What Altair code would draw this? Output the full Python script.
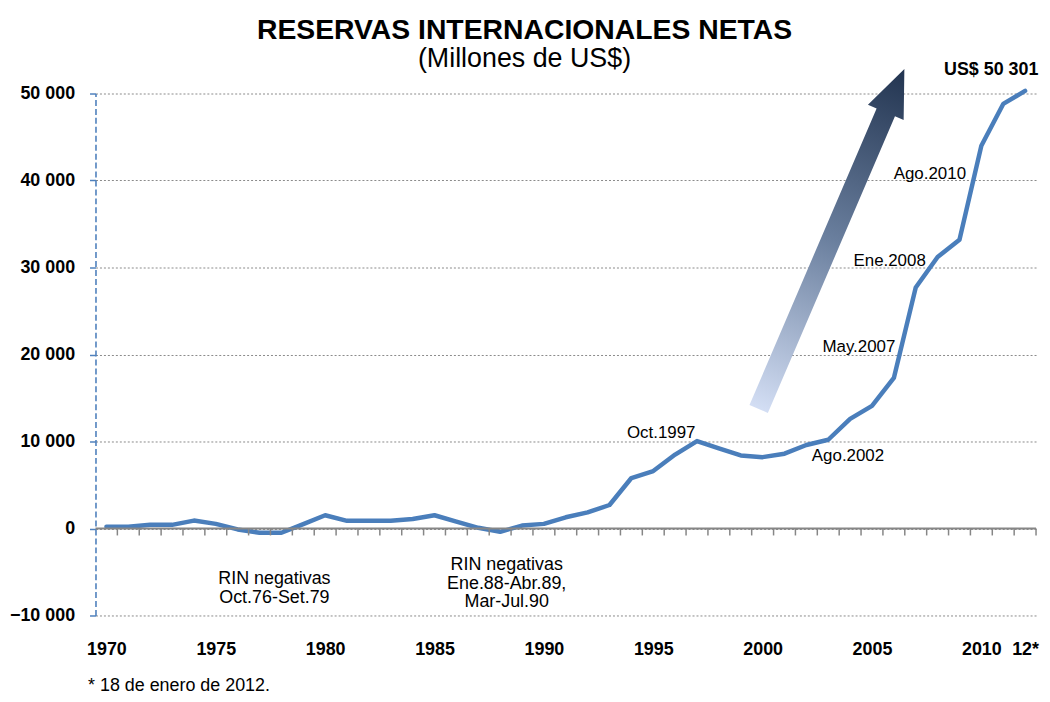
import altair as alt
import pandas as pd

F = "Liberation Sans, Arial, Helvetica, sans-serif"

# ---- data ----
years = list(range(1970, 2013))
rin = [190, 190, 420, 420, 910, 530, -110, -490, -490, 500,
       1520, 880, 880, 880, 1100, 1520, 800, 80, -380, 340,
       530, 1290, 1860, 2700, 5800, 6600, 8500, 10050, 9200, 8400,
       8200, 8600, 9600, 10200, 12600, 14100, 17300, 27700, 31200, 33200,
       44000, 48800, 50301]

x_label_years = [1970, 1975, 1980, 1985, 1990, 1995, 2000, 2005, 2010, 2012]
y_tick_values = [-10000, 0, 10000, 20000, 30000, 40000, 50000]
tick_bounds = [y + 0.5 for y in range(1970, 2013)]

ann_right_text = ["Oct.1997", "May.2007", "Ene.2008", "Ago.2010"]
ann_right_x = [1996.93, 2006.07, 2007.46, 2009.3]
ann_right_y = [10390, 20250, 30190, 40220]

ann_left_text = ["Ago.2002"]
ann_left_x = [2002.25]
ann_left_y = [7710]

neg_text = ["RIN negativas\nOct.76-Set.79", "RIN negativas\nEne.88-Abr.89,\nMar-Jul.90"]
neg_x = [1977.68, 1988.3]
neg_y = [-6410, -4740]

last_text = ["US$ 50 301"]
last_x = [2012.61]
last_y = [52100]

arrow_x = [2003.15]
arrow_y = [33280]

title_text = "RESERVAS INTERNACIONALES NETAS"
subtitle_text = "(Millones de US$)"
footnote_text = "* 18 de enero de 2012."

# ---- scales & axes (shared by every layer) ----
xs = alt.Scale(domain=[1969.5, 2012.5], nice=False, zero=False)
ys = alt.Scale(domain=[-10000, 50000], nice=False, zero=False)

AX = alt.Axis(
    values=x_label_years, format="d",
    labelExpr="datum.value == 2012 ? '12*' : datum.label",
    title=None, grid=False, ticks=False, tickSize=0, domain=False,
    labelFontSize=18, labelFontWeight="bold", labelColor="black", labelFont=F,
    labelPadding=25, labelFlush=False, labelOverlap=False)
AY = alt.Axis(
    values=y_tick_values, format=",d",
    labelExpr="replace(datum.label, ',', ' ')",
    title=None, grid=True, gridDash=[2, 2], gridColor="#8a8a8a", gridWidth=1,
    domainColor="#4f81bd", domainDash=[6, 3], domainWidth=1.6,
    tickColor="#4f81bd", tickSize=6, tickWidth=1.5,
    labelFontSize=18, labelFontWeight="bold", labelColor="black", labelFont=F,
    labelPadding=15)


def X(field):
    return alt.X(field, type="quantitative", scale=xs, axis=AX)


def Y(field):
    return alt.Y(field, type="quantitative", scale=ys, axis=AY)


df = pd.DataFrame({"year": years, "rin": rin})

# arrow (gradient filled custom symbol)
arrow_path = ("M -0.054 1 L -0.054 -0.745 L -0.105 -0.745 L 0 -1 "
              "L 0.105 -0.745 L 0.054 -0.745 L 0.054 1 Z")
grad = alt.Gradient(
    gradient="linear",
    stops=[alt.GradientStop(offset=0, color="#223450"),
           alt.GradientStop(offset=0.5, color="#6a7f9e"),
           alt.GradientStop(offset=1, color="#d3def4")],
    x1=0, y1=0, x2=0, y2=1)
arrow = alt.Chart(pd.DataFrame({"year": arrow_x, "rin": arrow_y})).mark_point(
    shape=arrow_path, size=138384, angle=23.2, filled=True, fill=grad,
    strokeWidth=0, opacity=1
).encode(x=X("year"), y=Y("rin"))

zero_rule = alt.Chart(pd.DataFrame({"rin": [0]})).mark_rule(
    color="#868686", strokeWidth=2
).encode(y=Y("rin"))

ticks = alt.Chart(pd.DataFrame({"year": tick_bounds})).mark_rule(
    color="#868686", strokeWidth=1.5
).encode(x=X("year"), y=alt.datum(0), y2=alt.datum(-800))

line = alt.Chart(df).mark_line(
    color="#4a7ebb", strokeWidth=4.5, strokeJoin="round", strokeCap="round"
).encode(x=X("year"), y=Y("rin"))


def text_layer(texts, xv, yv, align, size=17, weight="normal", line_break=None):
    d = pd.DataFrame({"t": texts, "year": xv, "rin": yv})
    kw = dict(align=align, baseline="alphabetic", font=F, fontSize=size,
              fontWeight=weight, color="black")
    if line_break:
        kw["lineBreak"] = line_break
        kw["lineHeight"] = 19
    return alt.Chart(d).mark_text(**kw).encode(
        x=X("year"), y=Y("rin"), text="t:N")


ann_r = text_layer(ann_right_text, ann_right_x, ann_right_y, "right")
ann_l = text_layer(ann_left_text, ann_left_x, ann_left_y, "left")
neg = text_layer(neg_text, neg_x, neg_y, "center", size=18, line_break="\n")
last = text_layer(last_text, last_x, last_y, "right", size=18, weight="bold")

one = pd.DataFrame({"k": [0]})
title = alt.Chart(one).mark_text(
    text=title_text, font=F, fontSize=28.5, fontWeight="bold", align="center",
    baseline="alphabetic", color="black"
).encode(x=alt.value(431.5), y=alt.value(-54.4))
subtitle = alt.Chart(one).mark_text(
    text=subtitle_text, font=F, fontSize=27, align="center",
    baseline="alphabetic", color="black"
).encode(x=alt.value(431.5), y=alt.value(-26.7))
footnote = alt.Chart(one).mark_text(
    text=footnote_text, font=F, fontSize=18, align="left",
    baseline="alphabetic", color="black"
).encode(x=alt.value(-7.5), y=alt.value(601))

chart = alt.layer(
    line, arrow, zero_rule, ticks, ann_r, ann_l, neg, last,
    title, subtitle, footnote
).properties(
    width=946, height=525,
    autosize=alt.AutoSizeParams(type="none"),
    padding={"left": 88, "top": 84, "right": 6, "bottom": 84},
    background="white"
).configure_view(stroke=None)

chart.save("out.html", embed_options={"renderer": "svg", "actions": False})
